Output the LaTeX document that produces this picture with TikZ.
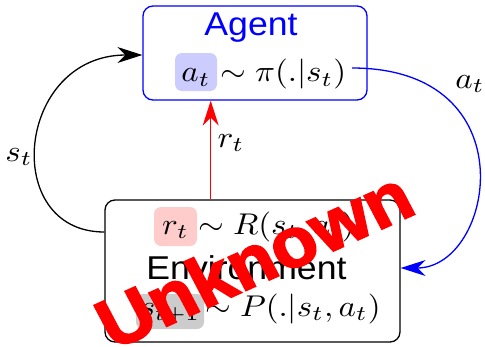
\documentclass[tikz,border=0pt]{standalone}
\usepackage[no-math]{fontspec}
\usepackage{graphicx}
\newfontfamily\lsans{Liberation Sans}
\newfontfamily\unkfont{Liberation Sans Bold}[FakeBold=2.5]
\usetikzlibrary{arrows.meta}
\newcommand{\Mth}[1]{\scalebox{3.3}[3.0]{$#1$}}
\newcommand{\Stx}[1]{\scalebox{1.08}[1]{\lsans\fontsize{33}{36}\selectfont #1}}
\begin{document}
\begin{tikzpicture}[x=1pt,y=-1pt,
  box/.style={draw, rounded corners=10pt, line width=1.3pt},
  hl/.style={rounded corners=7pt, inner sep=0pt},
  mtext/.style={inner sep=0pt, anchor=base west},
  conn/.style={line width=1.3pt, -{Stealth[length=25pt,width=16pt,inset=8pt]}},
  lbl/.style={inner sep=0pt}]
\useasboundingbox (0,0) rectangle (485,346);
% boxes
\node[box, draw=blue, minimum width=224pt, minimum height=94pt] (agent) at (255,53) {};
\node[box, draw=black, minimum width=295pt, minimum height=142pt] (env) at (252.5,271) {};
% Agent contents
\node[lbl, text=blue, anchor=base] (agentt) at (251,35) {\Stx{Agent}};
\node[hl, fill=blue!20, minimum width=42pt, minimum height=38pt] (at) at (196,72) {};
\node[lbl, anchor=base] (att) at (196,81.5) {\Mth{a_t}};
\node[mtext] (pi) at (220,81.5) {\Mth{\sim \pi(.|s_t)}};
% Environment contents
\node[hl, fill=red!20, minimum width=43pt, minimum height=39pt] (rt) at (175.5,226.5) {};
\node[lbl, anchor=base] (rtt) at (175.5,234) {\Mth{r_t}};
\node[mtext] (R) at (198,234) {\Mth{\sim R(s_t,a_t)}};
\node[lbl, anchor=base] (envt) at (246.5,279) {\Stx{Environment}};
\node[hl, fill=black!20, minimum width=68pt, minimum height=35pt] (st) at (170,311.5) {};
\node[lbl, anchor=base] (stt) at (170,316) {\Mth{s_{t+1}}};
\node[mtext] (P) at (205,316) {\Mth{\sim P(.|s_t,a_t)}};
% connectors
\coordinate (piout) at (352,68);
\coordinate (envin) at (env.east |- 0,268);
\coordinate (envout) at (env.west |- 0,232);
\coordinate (agin) at (agent.west |- 0,55);
\coordinate (rtop) at (210.7,0 |- agent.south);
\coordinate (rbot) at (210.7,0 |- env.north);
\draw[conn, draw=blue] (piout) .. controls (530,68) and (494,268) .. (envin);
\draw[conn] (envout) .. controls (0,232) and (16,55) .. (agin);
\draw[conn, draw=red] (rbot) -- (rtop);
\node[lbl] (lat) at (470,84) {\Mth{a_t}};
\node[lbl] (lst) at (19,157) {\Mth{s_t}};
\node[lbl] (lrt) at (231,143) {\Mth{r_t}};
% overlay
\node[text=red, inner sep=0pt] (unk) at (254,259) {\scalebox{1.08}[1]{\rotatebox{26}{\unkfont\fontsize{70}{74}\selectfont Unknown}}};
\end{tikzpicture}
\end{document}
